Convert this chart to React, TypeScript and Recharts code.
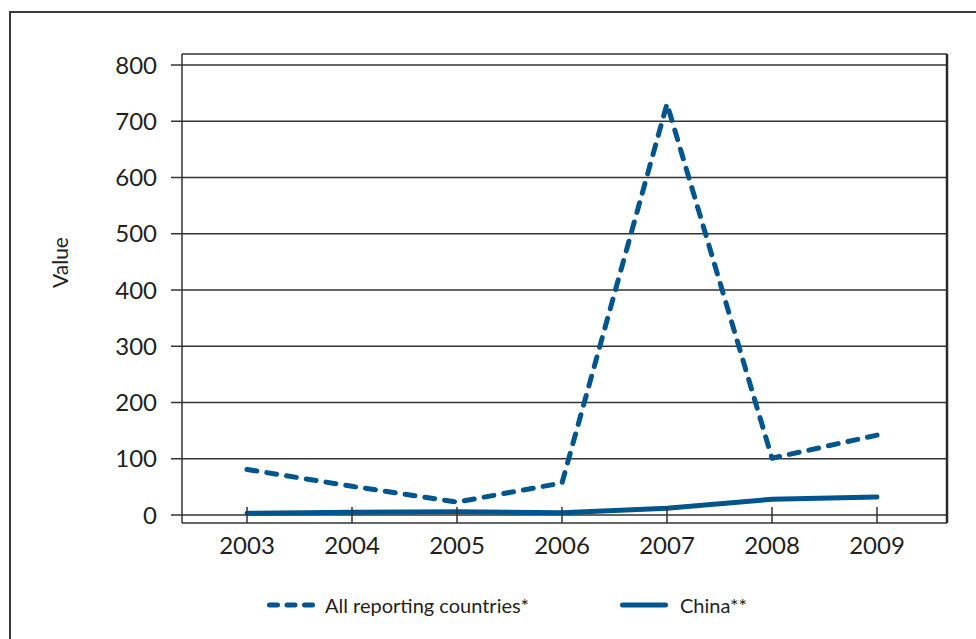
import React from 'react';
import { LineChart, Line, XAxis, YAxis, CartesianGrid, Legend } from 'recharts';

const years = ['2003', '2004', '2005', '2006', '2007', '2008', '2009'];
const allReporting = [81, 51, 23, 57, 731, 101, 142];
const china = [3, 5, 6, 4, 12, 28, 32];
const yTicks = [0, 100, 200, 300, 400, 500, 600, 700, 800];

const data = years.map((y, i) => ({ year: y, all: allReporting[i], china: china[i] }));

const BLUE = '#00558f';
const INK = '#231f20';
const FONT = 'Lato, "Noto Sans", sans-serif';

const series = [
  { key: 'all', name: 'All reporting countries*', dash: '10 10' },
  { key: 'china', name: 'China**', dash: undefined as string | undefined },
];

const XTick = (props: any) => {
  const { x, y, payload } = props;
  return (
    <g>
      <line x1={x} x2={x} y1={y - 16} y2={y} stroke="#333" strokeWidth={1.5} />
      <text x={x} y={y + 31} textAnchor="middle" fill={INK} fontSize={24} fontFamily={FONT}>
        {payload.value}
      </text>
    </g>
  );
};

const ValueLabel = (props: any) => {
  const vb = props.viewBox || {};
  const cx = (vb.x || 0) + 59;
  const cy = (vb.y || 0) + vb.height / 2 - 26;
  return (
    <text
      x={cx}
      y={cy}
      transform={`rotate(-90 ${cx} ${cy})`}
      textAnchor="middle"
      dominantBaseline="central"
      fill={INK}
      fontSize={21}
      fontFamily={FONT}
    >
      Value
    </text>
  );
};

const LegendContent = () => (
  <div style={{ display: 'flex', alignItems: 'center', height: 30, fontFamily: FONT, fontSize: 20, color: INK }}>
    {series.map((s, i) => (
      <div key={s.key} style={{ display: 'flex', alignItems: 'center', width: i === 0 ? 353 : 'auto' }}>
        <svg width={50} height={10} style={{ marginRight: i === 0 ? 10 : 12, flex: 'none' }}>
          <line
            x1={4.5}
            x2={47.5}
            y1={5}
            y2={5}
            stroke={BLUE}
            strokeWidth={5}
            strokeLinecap="round"
            strokeDasharray={s.dash ? '8 9.5' : undefined}
          />
        </svg>
        <span style={{ whiteSpace: 'nowrap' }}>{s.name}</span>
      </div>
    ))}
  </div>
);

export default function App() {
  return (
    <div style={{ position: 'absolute', left: 0, top: 0, width: 976, height: 639, overflow: 'hidden', background: '#fff' }}>
      <div
        style={{
          position: 'absolute',
          left: 9,
          top: 11,
          width: 1100,
          height: 800,
          border: '2px solid #3a3a3a',
        }}
      />
      <div style={{ position: 'absolute', left: 0, top: 0 }}>
        <LineChart width={976} height={639} data={data} margin={{ top: 54, right: 28, left: 0, bottom: 36 }}>
          <CartesianGrid vertical={false} stroke="#333" strokeWidth={1.4} />
          <XAxis
            dataKey="year"
            padding={{ left: 65, right: 70 }}
            axisLine={false}
            tickLine={false}
            tickSize={0}
            tickMargin={0}
            height={50}
            tick={<XTick />}
            interval={0}
          />
          <YAxis
            domain={[0, 800]}
            ticks={yTicks}
            width={182}
            padding={{ top: 11, bottom: 8 }}
            axisLine={{ stroke: '#333', strokeWidth: 1.5 }}
            tickLine={{ stroke: '#333', strokeWidth: 1.5 }}
            tickSize={11}
            tickMargin={14}
            tick={{ fill: INK, fontSize: 24, fontFamily: FONT }}
            label={<ValueLabel />}
            interval={0}
          />
          <YAxis
            yAxisId="r"
            orientation="right"
            domain={[0, 800]}
            width={1}
            tick={false}
            tickLine={false}
            padding={{ top: 11, bottom: 8 }}
            axisLine={{ stroke: '#2a2a2a', strokeWidth: 2.5 }}
          />
          <Legend
            verticalAlign="bottom"
            content={<LegendContent />}
            wrapperStyle={{ left: 265, top: 590, width: 'auto', height: 30 }}
          />
          {series.map((s) => (
            <Line
              key={s.key}
              type="linear"
              dataKey={s.key}
              name={s.name}
              stroke={BLUE}
              strokeWidth={5}
              strokeDasharray={s.dash}
              strokeLinecap="round"
              strokeLinejoin="round"
              dot={false}
              activeDot={false}
              isAnimationActive={false}
            />
          ))}
        </LineChart>
      </div>
    </div>
  );
}
